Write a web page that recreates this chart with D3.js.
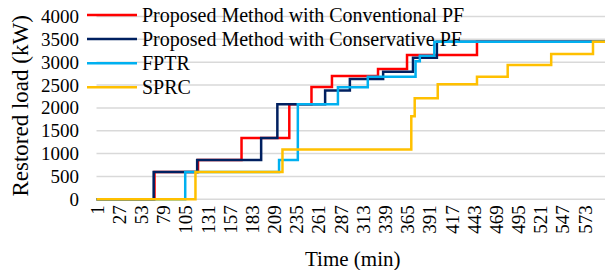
<!DOCTYPE html>
<html>
<head>
<meta charset="utf-8">
<script src="https://cdn.jsdelivr.net/npm/d3@7"></script>
<style>
  body { margin: 0; background: #fff; }
</style>
</head>
<body>
<div id="chart"></div>
<script>
// step series: minute where the step happens, restored load after it (kW)
var conventionalT = [1, 69, 120, 171, 227, 253, 277, 331, 365, 447];
var conventionalV = [0, 600, 860, 1340, 2080, 2460, 2700, 2850, 3160, 3450];

var conservativeT = [1, 68, 119, 194, 213, 269, 298, 337, 372, 400];
var conservativeV = [0, 600, 860, 1340, 2080, 2380, 2630, 2790, 3100, 3450];

var fptrT = [1, 105, 215, 237, 284, 319, 375, 380, 397];
var fptrV = [0, 600, 860, 2080, 2450, 2680, 3020, 3140, 3450];

var sprcT = [1, 117, 219, 370, 374, 401, 447, 483, 534, 583];
var sprcV = [0, 600, 1090, 1820, 2210, 2520, 2680, 2940, 3180, 3450];

var seriesNames = ["Proposed Method with Conventional PF", "Proposed Method with Conservative PF", "FPTR", "SPRC"];
var seriesColors = ["#ff0000", "#002060", "#00b0f0", "#ffc000"];

var timeTicks = [1, 27, 53, 79, 105, 131, 157, 183, 209, 235, 261, 287, 313, 339, 365, 391, 417, 443, 469, 495, 521, 547, 573];
var loadTicks = [0, 500, 1000, 1500, 2000, 2500, 3000, 3500, 4000];
var lastMinute = 600;

var serif = "Liberation Serif, Times New Roman, serif";
var width = 605, height = 270;
var margin = { left: 96.5, right: -2.5, top: 16.5, bottom: 70.7 };

var svg = d3.select("#chart").append("svg")
  .attr("width", width)
  .attr("height", height)
  .attr("font-family", serif);

var x = d3.scaleLinear().domain([1, lastMinute]).range([margin.left, width - margin.right]);
var y = d3.scaleLinear().domain([0, 4000]).range([height - margin.bottom, margin.top]);

// gridlines
svg.append("g")
  .selectAll("line")
  .data(loadTicks)
  .enter().append("line")
  .attr("x1", margin.left)
  .attr("x2", width)
  .attr("y1", d => y(d))
  .attr("y2", d => y(d))
  .attr("stroke", "#d9d9d9")
  .attr("stroke-width", 1.5);

// y axis labels
var yAxis = d3.axisLeft(y).tickValues(loadTicks).tickSize(0).tickPadding(0).tickFormat(d3.format("d"));
svg.append("g")
  .attr("transform", "translate(79,0)")
  .call(yAxis)
  .attr("font-family", serif)
  .attr("font-size", 19)
  .call(g => g.select(".domain").remove())
  .selectAll("text")
  .attr("fill", "#000");

// x axis labels, rotated
var xAxis = d3.axisBottom(x).tickValues(timeTicks).tickSize(0).tickFormat(d3.format("d"));
svg.append("g")
  .attr("transform", "translate(0," + (y(0) + 6) + ")")
  .call(xAxis)
  .attr("font-family", serif)
  .attr("font-size", 19)
  .call(g => g.select(".domain").remove())
  .selectAll("text")
  .attr("fill", "#000")
  .attr("text-anchor", "end")
  .attr("y", 0)
  .attr("dy", "0.35em")
  .attr("transform", "rotate(-90)");

// axis titles
svg.append("text")
  .attr("x", (margin.left + width) / 2 + 2)
  .attr("y", 266)
  .attr("text-anchor", "middle")
  .attr("font-size", 21)
  .text("Time (min)");

svg.append("text")
  .attr("transform", "translate(28," + ((margin.top + y(0)) / 2 - 2) + ") rotate(-90)")
  .attr("text-anchor", "middle")
  .attr("font-size", 23)
  .text("Restored load (kW)");

// lines
var series = [
  { t: conventionalT, v: conventionalV },
  { t: conservativeT, v: conservativeV },
  { t: fptrT, v: fptrV },
  { t: sprcT, v: sprcV }
].map((s, i) => {
  var pts = s.t.map((t, j) => ({ t: t, v: s.v[j] }));
  pts.push({ t: lastMinute, v: s.v[s.v.length - 1] });
  return { name: seriesNames[i], color: seriesColors[i], points: pts };
});

var line = d3.line()
  .curve(d3.curveStepAfter)
  .x(d => x(d.t))
  .y(d => y(d.v));

svg.append("g")
  .selectAll("path")
  .data(series)
  .enter().append("path")
  .attr("d", d => line(d.points))
  .attr("fill", "none")
  .attr("stroke", d => d.color)
  .attr("stroke-width", 2.5);

// legend
var legend = svg.append("g")
  .selectAll("g")
  .data(series)
  .enter().append("g")
  .attr("transform", (d, i) => "translate(87," + (15 + i * 24.1) + ")");

legend.append("line")
  .attr("x1", 0)
  .attr("x2", 50)
  .attr("stroke", d => d.color)
  .attr("stroke-width", 2.5);

legend.append("text")
  .attr("x", 55)
  .attr("dy", "0.35em")
  .attr("font-size", 20)
  .text(d => d.name);
</script>
</body>
</html>
